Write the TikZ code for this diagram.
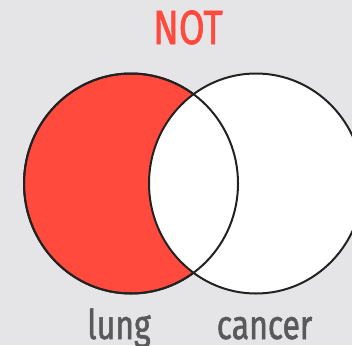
\documentclass[tikz,border=0pt]{standalone}
\usepackage{fontspec}
\usetikzlibrary{positioning,shapes.geometric}
\newfontfamily\vennfont[FakeStretch=0.78,FakeBold=1.3]{Fira Sans}
\definecolor{PaperGray}{HTML}{E5E5E8}
\definecolor{NotRed}{HTML}{FF4A3D}
\definecolor{InkBlack}{HTML}{222222}
\definecolor{LabelGray}{HTML}{595959}

\begin{document}
\begin{tikzpicture}[
  x=1pt,y=-1pt,
  every node/.style={font=\vennfont,align=center},
  vennset/.style={ellipse,draw=InkBlack,line width=2pt,minimum width=214pt,minimum height=220pt,inner sep=0pt},
  outline/.style={draw=InkBlack,line width=2pt},
  setname/.style={anchor=base,text=LabelGray,font=\vennfont\fontsize{41}{41}\selectfont},
  opname/.style={anchor=base,text=NotRed,font=\vennfont\fontsize{48}{48}\selectfont}
]
\fill[PaperGray] (0,0) rectangle (352,345);
\useasboundingbox (0,0) rectangle (352,345);
\clip (0,0) rectangle (352,345);
\node[vennset,fill=NotRed] (lung) at (131,183.5) {};
\node[vennset,fill=white] (cancer) at (256,183.5) {};
\draw[outline] (lung.center) ellipse [x radius=107,y radius=110];
\node[opname] (op) at (188,44) {NOT};
\node[setname] (lunglabel) at (119,339) {lung};
\node[setname] (cancerlabel) at (264.5,339) {cancer};
\end{tikzpicture}
\end{document}
